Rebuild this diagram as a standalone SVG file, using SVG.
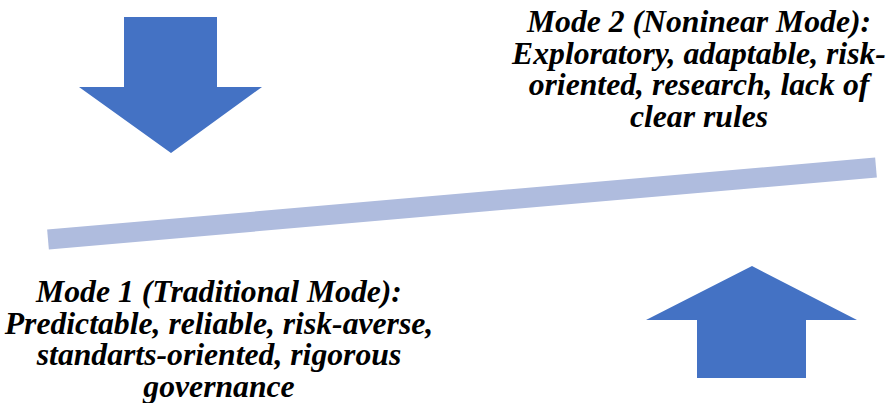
<svg xmlns="http://www.w3.org/2000/svg" width="888" height="403" viewBox="0 0 888 403">
<defs>
<style>
.arrow{fill:#4472C4}
</style>
</defs>
<rect width="888" height="403" fill="#fff"/>
<g id="connectors">
<line x1="48" y1="239.5" x2="876" y2="167.5" stroke="#AFBCDE" stroke-width="20"/>
</g>
<g id="down-arrow">
<polygon class="arrow" points="124,17 217,17 217,87 262,87 171,153 79,87 124,87"/>
</g>
<g id="up-arrow">
<polygon class="arrow" points="752,266 857,320 806,320 806,378 697,378 697,320 646,320"/>
</g>
<g id="mode2">
<text x="699" y="32" font-family="Liberation Serif" font-weight="bold" font-style="italic" font-size="31.7" text-anchor="middle">Mode 2 (Noninear Mode):</text>
<text x="699" y="63.5" font-family="Liberation Serif" font-weight="bold" font-style="italic" font-size="31.7" text-anchor="middle">Exploratory, adaptable, risk-</text>
<text x="699" y="95" font-family="Liberation Serif" font-weight="bold" font-style="italic" font-size="31.7" text-anchor="middle">oriented, research, lack of</text>
<text x="699" y="126.5" font-family="Liberation Serif" font-weight="bold" font-style="italic" font-size="31.7" text-anchor="middle">clear rules</text>
</g>
<g id="mode1">
<text x="219" y="302" font-family="Liberation Serif" font-weight="bold" font-style="italic" font-size="31.7" text-anchor="middle">Mode 1 (Traditional Mode):</text>
<text x="219" y="333.5" font-family="Liberation Serif" font-weight="bold" font-style="italic" font-size="31.7" text-anchor="middle">Predictable, reliable, risk-averse,</text>
<text x="219" y="365" font-family="Liberation Serif" font-weight="bold" font-style="italic" font-size="31.7" text-anchor="middle">standarts-oriented, rigorous</text>
<text x="219" y="396.5" font-family="Liberation Serif" font-weight="bold" font-style="italic" font-size="31.7" text-anchor="middle">governance</text>
</g>
</svg>
